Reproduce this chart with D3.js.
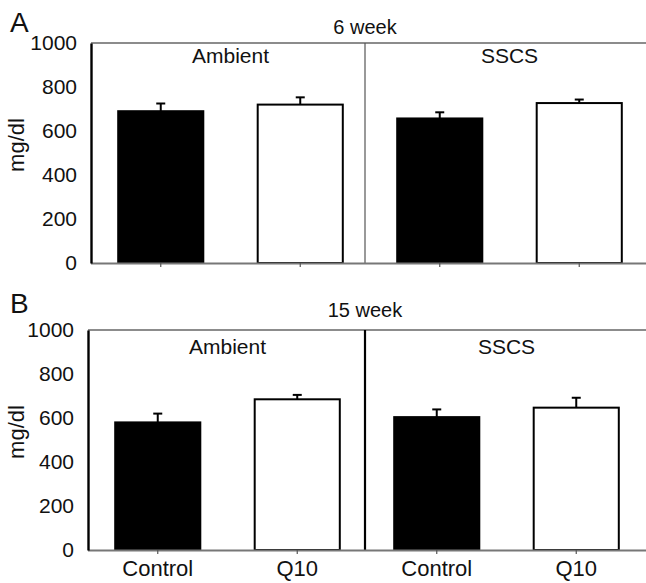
<!DOCTYPE html>
<html><head><meta charset="utf-8">
<script src="https://cdn.jsdelivr.net/npm/d3@7"></script>
<style>
body{margin:0;background:#fff}
text{font-family:"Liberation Sans",Arial,Helvetica,sans-serif;fill:#111}
</style>
</head><body><svg id="c" width="646" height="583"></svg>
<script>
// ---- data ----
const categories = ["Control", "Q10", "Control", "Q10"];
const groups = ["Ambient", "SSCS"];
const panelLetters = ["A", "B"];
const panelTitles = ["6 week", "15 week"];
const valuesA = [690, 720, 657, 727];
const errorsA = [35, 33, 28, 16];
const valuesB = [580, 685, 604, 647];
const errorsB = [40, 20, 35, 45];
const yTicks = [0, 200, 400, 600, 800, 1000];
const fills = ["#000", "#fff", "#000", "#fff"];

// ---- layout ----
const panels = [
  {letter: panelLetters[0], title: panelTitles[0], values: valuesA, errors: errorsA,
   left: 91, right: 649, top: 43, bottom: 263, divX: 365, divColor: "#555", divW: 1.2,
   letterY: 32, titleY: 34, groupY: 63, showCats: false},
  {letter: panelLetters[1], title: panelTitles[1], values: valuesB, errors: errorsB,
   left: 88, right: 646, top: 330, bottom: 550, divX: 365, divColor: "#000", divW: 2.2,
   letterY: 313, titleY: 317, groupY: 354, showCats: true}
];

const svg = d3.select("#c");

panels.forEach(p => {
  const g = svg.append("g");
  const idx = d3.range(categories.length);
  const x = d3.scaleBand().domain(idx).range([p.left, p.right])
    .paddingInner(0.39).paddingOuter(0.195);
  const y = d3.scaleLinear().domain([0, 1000]).range([p.bottom, p.top]);

  // top border
  g.append("line").attr("x1", p.left).attr("x2", 646).attr("y1", p.top).attr("y2", p.top)
    .attr("stroke", "#666").attr("stroke-width", 1.6);
  // divider
  g.append("line").attr("x1", p.divX).attr("x2", p.divX).attr("y1", p.top).attr("y2", p.bottom)
    .attr("stroke", p.divColor).attr("stroke-width", p.divW);

  // bars
  g.selectAll("rect.bar").data(idx).join("rect").attr("class", "bar")
    .attr("x", i => x(i)).attr("width", x.bandwidth())
    .attr("y", i => y(p.values[i])).attr("height", i => y(0) - y(p.values[i]))
    .attr("fill", i => fills[i]).attr("stroke", "#000").attr("stroke-width", 2);

  // error bars (upper only)
  const cap = 9;
  idx.forEach(i => {
    const cx = x(i) + x.bandwidth() / 2;
    g.append("line").attr("x1", cx).attr("x2", cx)
      .attr("y1", y(p.values[i])).attr("y2", y(p.values[i] + p.errors[i]))
      .attr("stroke", "#000").attr("stroke-width", 2);
    g.append("line").attr("x1", cx - cap / 2).attr("x2", cx + cap / 2)
      .attr("y1", y(p.values[i] + p.errors[i])).attr("y2", y(p.values[i] + p.errors[i]))
      .attr("stroke", "#000").attr("stroke-width", 2);
  });

  // x axis
  const xAxis = d3.axisBottom(x).tickSizeInner(4).tickSizeOuter(0)
    .tickFormat(i => p.showCats ? categories[i] : "");
  const xg = g.append("g").attr("transform", `translate(0,${p.bottom})`).call(xAxis);
  xg.select(".domain").attr("d", `M${p.left},0.5H646`).attr("stroke", "#777").attr("stroke-width", 1.8);
  xg.selectAll(".tick line").attr("stroke", "#555").attr("stroke-width", 1.2);
  xg.selectAll(".tick text").attr("font-size", 22).attr("dy", 0).attr("y", 26)
    .style("font-family", '"Liberation Sans",Arial,sans-serif').attr("fill", "#111");

  // y axis
  const yAxis = d3.axisLeft(y).tickValues(yTicks).tickSize(0).tickPadding(14).tickFormat(d3.format("d"));
  const yg = g.append("g").attr("transform", `translate(${p.left},0)`).call(yAxis);
  yg.select(".domain").attr("stroke", "#000").attr("stroke-width", 2.4);
  yg.selectAll(".tick text").attr("font-size", 21)
    .style("font-family", '"Liberation Sans",Arial,sans-serif').attr("fill", "#111");

  // y label
  g.append("text").attr("transform", `translate(24,${(p.top + p.bottom) / 2 - 8}) rotate(-90)`)
    .attr("text-anchor", "middle").attr("font-size", 22).text("mg/dl");

  // panel letter
  g.append("text").attr("x", 10).attr("y", p.letterY).attr("font-size", 28).text(p.letter);
  // title
  g.append("text").attr("x", p.divX).attr("y", p.titleY).attr("text-anchor", "middle")
    .attr("font-size", 20).text(p.title);
  // group labels
  groups.forEach((gr, k) => {
    const cx = (x(2 * k) + x(2 * k + 1) + x.bandwidth()) / 2;
    g.append("text").attr("x", cx).attr("y", p.groupY).attr("text-anchor", "middle")
      .attr("font-size", 21).text(gr);
  });
});
</script>
</body></html>
